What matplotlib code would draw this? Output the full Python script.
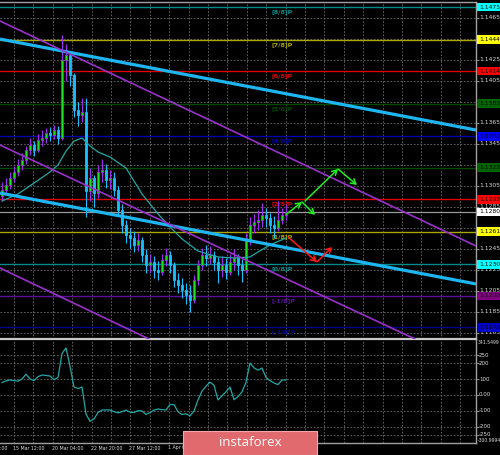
import numpy as np
import matplotlib
matplotlib.use('Agg')
import matplotlib.pyplot as plt
from matplotlib.patches import Rectangle

# ---------------- data ----------------
open0 = 1.1295
closes = [1.1301, 1.1306, 1.1312, 1.1318, 1.1325, 1.1329, 1.1339, 1.1344, 1.1339, 1.1348,
          1.1350, 1.1355, 1.1353, 1.1358, 1.1350, 1.1425, 1.1429, 1.1410, 1.1377, 1.1372,
          1.1375, 1.1300, 1.1312, 1.1298, 1.1318, 1.1320, 1.1310, 1.1312, 1.1301, 1.1282,
          1.1267, 1.1258, 1.1255, 1.1248, 1.1253, 1.1239, 1.1229, 1.1232, 1.1225, 1.1223,
          1.1234, 1.1239, 1.1229, 1.1215, 1.1210, 1.1206, 1.1201, 1.1196, 1.1215, 1.1229,
          1.1239, 1.1236, 1.1239, 1.1232, 1.1225, 1.1229, 1.1223, 1.1232, 1.1236, 1.1229,
          1.1225, 1.1253, 1.1267, 1.1270, 1.1272, 1.1277, 1.1274, 1.1267, 1.1265, 1.1272,
          1.1277, 1.1280]
highs = [1.1308, 1.1312, 1.1318, 1.1324, 1.1330, 1.1336, 1.1343, 1.1350, 1.1347, 1.1354,
         1.1358, 1.1360, 1.1361, 1.1363, 1.1362, 1.1448, 1.1440, 1.1432, 1.1412, 1.1385,
         1.1388, 1.1388, 1.1322, 1.1315, 1.1325, 1.1330, 1.1326, 1.1320, 1.1318, 1.1305,
         1.1287, 1.1272, 1.1265, 1.1262, 1.1260, 1.1256, 1.1245, 1.1240, 1.1238, 1.1233,
         1.1240, 1.1246, 1.1243, 1.1232, 1.1222, 1.1217, 1.1212, 1.1210, 1.1220, 1.1234,
         1.1246, 1.1248, 1.1247, 1.1243, 1.1237, 1.1238, 1.1236, 1.1240, 1.1245, 1.1240,
         1.1235, 1.1260, 1.1275, 1.1278, 1.1282, 1.1288, 1.1284, 1.1279, 1.1276, 1.1290,
         1.1284, 1.1287]
lows = [1.1290, 1.1297, 1.1302, 1.1308, 1.1314, 1.1320, 1.1326, 1.1334, 1.1333, 1.1337,
        1.1343, 1.1346, 1.1347, 1.1349, 1.1345, 1.1348, 1.1405, 1.1400, 1.1370, 1.1362,
        1.1366, 1.1275, 1.1290, 1.1285, 1.1293, 1.1308, 1.1303, 1.1302, 1.1295, 1.1276,
        1.1260, 1.1250, 1.1246, 1.1242, 1.1243, 1.1232, 1.1222, 1.1222, 1.1217, 1.1215,
        1.1220, 1.1228, 1.1222, 1.1208, 1.1203, 1.1198, 1.1192, 1.1185, 1.1193, 1.1210,
        1.1225, 1.1228, 1.1230, 1.1225, 1.1212, 1.1218, 1.1216, 1.1220, 1.1225, 1.1220,
        1.1213, 1.1222, 1.1248, 1.1260, 1.1263, 1.1266, 1.1266, 1.1260, 1.1255, 1.1262,
        1.1268, 1.1272]

ma_bars = [0, 4, 8, 12, 14, 16, 18, 20, 22, 24, 27, 31, 35, 39, 42, 45, 49, 54, 58, 62, 64, 67, 71]
ma_vals = [1.12903, 1.12970, 1.13074, 1.13179, 1.13246, 1.13379, 1.13474, 1.13503, 1.13427,
           1.13370, 1.13322, 1.13217, 1.12970, 1.12780, 1.12656, 1.12542, 1.12427, 1.12370,
           1.12361, 1.12370, 1.12418, 1.12484, 1.12551]

cci = [78, 88, 94, 90, 87, 100, 130, 100, 90, 115,
       125, 122, 119, 96, 110, 260, 295, 180, 50, 40,
       50, -120, -165, -150, -110, -94, -94, -94, -105, -112,
       -105, -95, -108, -110, -98, -100, -122, -110, -95, -88,
       -92, -94, -60, -60, -105, -122, -118, -131, -100, -31,
       25, 55, 81, 60, -31, -5, 20, 50, -30, -10,
       20, 80, 200, 170, 156, 169, 110, 90, 75, 65,
       94, 94]

levels = [1.1475, 1.1444, 1.1414, 1.1383, 1.1352, 1.1322, 1.1292, 1.1261, 1.1230, 1.1200, 1.1170]
level_names = ['[8/8]P', '[7/8]P', '[6/8]P', '[5/8]P', '[4/8]P', '[3/8]P',
               '[2/8]P', '[1/8]P', '[0/8]P', '[-1/8]P', '[-2/8]P']
level_line_colors = ['#008b8b', '#a8a800', '#e00000', '#004a00', '#0000b0', '#004a00',
                     '#e00000', '#a8a800', '#008b8b', '#5c0f9c', '#00008b']
level_box_colors = ['#00ffff', '#ffff00', '#ff0000', '#006400', '#0000ff', '#006400',
                    '#ff0000', '#ffff00', '#00ffff', '#800080', '#0000cd']
current_price = 1.1280

# trend lines (bar, price)
blue_lines = [[(-0.5, 1.14445), (118.5, 1.13579)],
              [(-0.5, 1.12979), (118.5, 1.12113)]]
purple_lines = [[(-0.5, 1.14617), (118.5, 1.12475)],
                [(-0.5, 1.13436), (103.25, 1.11589)],
                [(-0.5, 1.12265), (36.75, 1.11589)]]
green_arrows = [[(71.5, 1.12789), (75.0, 1.12894), (78.25, 1.12770)],
                [(75.75, 1.12903), (84.0, 1.13208), (88.75, 1.13055)]]
red_arrow = [(71.5, 1.12560), (78.75, 1.12322), (82.5, 1.12465)]

price_ticks = [1.1465, 1.1445, 1.1425, 1.1405, 1.1385, 1.1365, 1.1345, 1.1325, 1.1305,
               1.1285, 1.1265, 1.1245, 1.1225, 1.1205, 1.1185, 1.1165]
cci_ticks = [250, 200, 100, 0, -100, -200, -250]
cci_tick_labels = ['250', '200', '100', '0.00', '-100', '-200', '-250']
cci_min, cci_max = -300.9994, 341.5499
date_labels = ['12 Mar 20:00', '15 Mar 12:00', '20 Mar 04:00', '22 Mar 20:00',
               '27 Mar 12:00', '1 Apr 04:00']

# ---------------- figure ----------------
W, H = 500, 455
fig = plt.figure(figsize=(5, 4.55), dpi=100, facecolor='black')

def fy(py):
    return 1 - py / H

ax = fig.add_axes([0, fy(339), 476 / W, (339 - 2) / H])
ax2 = fig.add_axes([0, fy(443), 476 / W, (443 - 340.5) / H])
for a in (ax, ax2):
    a.set_facecolor('black')
    a.set_xlim(-0.5, 118.5)
    a.set_xticks([])
    for s in a.spines.values():
        s.set_color('#a0a0a0')
        s.set_linewidth(1.0)
    a.spines['left'].set_visible(False)
ax.set_ylim(1.11589, 1.14798)
ax2.set_ylim(cci_min, cci_max)
ax.spines['bottom'].set_color('#c8c8c8')
ax.spines['bottom'].set_linewidth(1.6)
ax2.spines['top'].set_visible(False)

# grid
grid_x = np.arange(3, 118.5, 4.85)
gkw = dict(color='#6e6e6e', lw=0.6, ls=(0, (2, 2)), zorder=0)
for gx in grid_x:
    ax.axvline(gx, **gkw)
    ax2.axvline(gx, **gkw)
for gp in price_ticks:
    ax.axhline(gp, **gkw)
for gc in cci_ticks:
    ax2.axhline(gc, **gkw)

# ticks on right side
ax.set_yticks(price_ticks + levels)
ax.tick_params(axis='y', left=False, right=True, labelleft=False, labelright=False,
               length=2, color='#a0a0a0', width=0.6)
ax2.set_yticks(cci_ticks)
ax2.tick_params(axis='y', left=False, right=True, labelleft=False, labelright=False,
                length=2, color='#a0a0a0', width=0.6)

# murrey levels
for v, nm, lc in zip(levels, level_names, level_line_colors):
    ax.axhline(v, color=lc, lw=1.0, zorder=1)
    if nm != '[3/8]P':
        ax.annotate(nm, (67.5, v), xytext=(0, -1.5), textcoords='offset points',
                    color=lc, fontsize=4.6, fontweight='bold', va='top', ha='left',
                    annotation_clip=False, zorder=2)
ax.axhline(current_price, color='#9a9a9a', lw=0.9, zorder=1)

# trend lines
for pts in blue_lines:
    xs, ys = zip(*pts)
    ax.plot(xs, ys, color='#1eb6f2', lw=2.3, zorder=4, solid_capstyle='butt')
for pts in purple_lines:
    xs, ys = zip(*pts)
    ax.plot(xs, ys, color='#9932cc', lw=1.2, zorder=4)

# candles
opens = [open0] + closes[:-1]
for i, (o, h, l, c) in enumerate(zip(opens, highs, lows, closes)):
    up = c >= o
    col = '#a02cf0' if up else '#18c0ff'
    ax.vlines(i, l, h, color=col, lw=0.8, zorder=3)
    bh = max(abs(c - o), 0.00004)
    ax.add_patch(Rectangle((i - 0.35, min(o, c)), 0.7, bh,
                           facecolor='#1ee01e' if up else col, edgecolor=col,
                           lw=0.6, zorder=3))

# moving average
ax.plot(ma_bars, ma_vals, color='#20a8a8', lw=0.9, zorder=3)

# arrows
def draw_path(pts, color):
    for (x0, y0), (x1, y1) in zip(pts[:-1], pts[1:]):
        ax.annotate('', xy=(x1, y1), xytext=(x0, y0),
                    arrowprops=dict(arrowstyle='->,head_length=0.35,head_width=0.2',
                                    color=color, lw=1.1, shrinkA=0, shrinkB=0),
                    zorder=5)
for pts in green_arrows:
    draw_path(pts, '#22ee22')
draw_path(red_arrow, '#ff1a1a')

# cci
ax2.plot(range(len(cci)), cci, color='#20a8a8', lw=0.9)

# right labels main
ytr = ax.get_yaxis_transform()
for p in price_ticks:
    if min(abs(p - v) for v in levels + [current_price]) < 0.0004:
        continue  # hidden behind a coloured price box
    ax.text(1.006, p, f'{p:.4f}', transform=ytr, color='#d8d8d8', fontsize=4.3,
            va='center', ha='left', clip_on=False)
for v, bc in zip(levels, level_box_colors):
    ax.text(1.006, v, f'{v:.4f}', transform=ytr, color='black', fontsize=4.3,
            va='center', ha='left', clip_on=False, zorder=10,
            bbox=dict(boxstyle='square,pad=0.3', fc=bc, ec='none'))
ax.text(1.006, current_price, f'{current_price:.4f}', transform=ytr, color='black',
        fontsize=4.3, va='center', ha='left', clip_on=False, zorder=11,
        bbox=dict(boxstyle='square,pad=0.3', fc='white', ec='none'))

# right labels cci
ytr2 = ax2.get_yaxis_transform()
for v, s in zip(cci_ticks, cci_tick_labels):
    ax2.text(1.006, v, s, transform=ytr2, color='#d8d8d8', fontsize=4.0,
             va='center', ha='left', clip_on=False)
ax2.text(1.003, cci_max, f'{cci_max:.4f}', transform=ytr2, color='#d8d8d8', fontsize=3.3,
         va='top', ha='left', clip_on=False)
ax2.text(1.003, cci_min, f'{cci_min:.4f}', transform=ytr2, color='#d8d8d8', fontsize=3.3,
         va='bottom', ha='left', clip_on=False)

# date labels
for k, s in enumerate(date_labels):
    if k == 0:
        fig.text(8 / W, fy(448), s, color='#d8d8d8', fontsize=3.4, ha='right', va='center')
    else:
        px = 13 + 38.8 * (k - 1)
        fig.text(px / W, fy(448), s, color='#d8d8d8', fontsize=3.4, ha='left', va='center')

# logo
fig.patches.append(Rectangle((183 / W, 0), 134 / W, 24 / H, transform=fig.transFigure,
                             facecolor='#e06a6e', edgecolor='#f2a8aa', lw=0.8, zorder=20))
fig.text(250 / W, fy(443), 'instaforex', color='white', fontsize=9.5,
         family=['Open Sans', 'DejaVu Sans'], ha='center', va='center', zorder=21)

fig.savefig('out.png', dpi=100, facecolor='black')
